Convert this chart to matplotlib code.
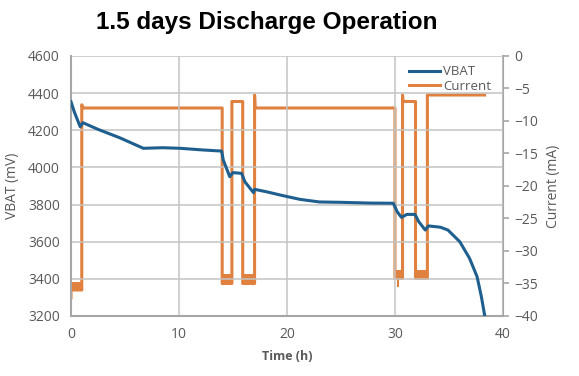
import numpy as np
import matplotlib.pyplot as plt

# VBAT trace (hours, mV)
vbat_t = [0.0, 0.3, 0.85, 1.1, 2.5, 4.5, 6.7, 8.5, 10.1, 12.2, 13.95, 14.1, 14.7, 15.0,
          15.8, 16.1, 16.9, 17.0, 18.1, 19.4, 21.2, 23.0, 25.0, 27.7, 29.85, 30.2, 30.6,
          31.1, 31.85, 32.2, 32.8, 33.1, 34.2, 34.9, 36.0, 36.9, 37.6, 38.0, 38.3]
vbat_v = [4354, 4300, 4219, 4241, 4205, 4160, 4103, 4106, 4103, 4094, 4088, 4040, 3950, 3972,
          3968, 3923, 3864, 3882, 3869, 3851, 3828, 3814, 3812, 3808, 3807, 3762, 3731,
          3747, 3747, 3708, 3663, 3685, 3678, 3663, 3600, 3511, 3412, 3304, 3205]

# Current trace (hours, mA), steps drawn as repeated times
cur_t = [0.0, 0.0, 1.0, 1.0, 1.1, 14.0, 14.0, 14.9, 14.9, 15.9, 15.9, 17.0, 17.0, 17.05,
         30.0, 30.0, 30.7, 30.7, 30.75, 31.9, 31.9, 33.0, 33.0, 38.3]
cur_v = [-37.2, -36.0, -36.0, -7.5, -8.0, -8.0, -35.0, -35.0, -7.0, -7.0, -35.0, -35.0, -6.0, -8.0,
         -8.0, -34.2, -34.2, -6.0, -7.0, -7.0, -34.2, -34.2, -6.0, -6.0]

# noisy low-current periods (start, end, low, high)
low_start = [0.0, 14.0, 15.9, 30.0, 31.9]
low_end = [1.0, 14.9, 17.0, 30.7, 33.0]
low_lo = [-36.2, -35.0, -35.0, -34.2, -34.2]
low_hi = [-34.8, -33.6, -33.6, -32.9, -32.9]

blue = '#1f5f8f'
orange = '#e0813f'
gray = '#595959'

plt.rcParams['font.family'] = ['Open Sans', 'DejaVu Sans']

fig = plt.figure(figsize=(5.79, 3.76), dpi=100)
ax = fig.add_axes([0.1226, 0.1596, 0.7461, 0.6915])
ax2 = ax.twinx()

l1, = ax.plot(vbat_t, vbat_v, color=blue, linewidth=2.2, label='VBAT', zorder=3)
l2, = ax2.plot(cur_t, cur_v, color=orange, linewidth=2.2, label='Current', zorder=2)
for s, e, lo, hi in zip(low_start, low_end, low_lo, low_hi):
    ax2.fill_between([s, e], [lo, lo], [hi, hi], color=orange, linewidth=0)
ax2.vlines([30.3], -35.5, -34.0, color=orange, linewidth=1.5)

ax.set_zorder(ax2.get_zorder() + 1)
ax.patch.set_visible(False)

ax.set_xlim(0, 40)
ax.set_ylim(3200, 4600)
ax2.set_ylim(-40, 0)
ax.set_xticks(np.arange(0, 41, 10))
ax.set_yticks(np.arange(3200, 4601, 200))
ax2.set_yticks(np.arange(-40, 1, 5))

ax.grid(True, color='#c4c4c4', linewidth=1.1)
ax.set_axisbelow(True)

for a in (ax, ax2):
    for sp in a.spines.values():
        sp.set_visible(False)
ax.spines['left'].set_visible(True)
ax.spines['bottom'].set_visible(True)
ax2.spines['right'].set_visible(True)
for sp in (ax.spines['left'], ax.spines['bottom'], ax2.spines['right']):
    sp.set_color('#a6a6a6')
    sp.set_linewidth(1.5)

ax.tick_params(axis='both', length=0, labelsize=10, colors=gray, pad=8)
ax2.tick_params(axis='y', length=4, width=1.2, color='#a6a6a6', labelsize=10, labelcolor=gray, pad=4)

ax.set_xlabel('Time (h)', fontsize=9, color=gray, fontweight='bold', labelpad=6)
ax.set_ylabel('VBAT (mV)', fontsize=10, color=gray, labelpad=6)
ax2.set_ylabel('Current (mA)', fontsize=10, color=gray, labelpad=6)

ax.legend([l1, l2], ['VBAT', 'Current'], loc='upper right', bbox_to_anchor=(1.0, 1.01),
          frameon=False, fontsize=9.5, handlelength=2.4, handletextpad=0.2,
          labelspacing=0.1, labelcolor=gray)

fig.text(0.46, 0.94, '1.5 days Discharge Operation', ha='center', va='center',
         fontsize=17.5, fontweight='bold', family=['Liberation Sans', 'DejaVu Sans'])

fig.savefig('out.png', dpi=100)
